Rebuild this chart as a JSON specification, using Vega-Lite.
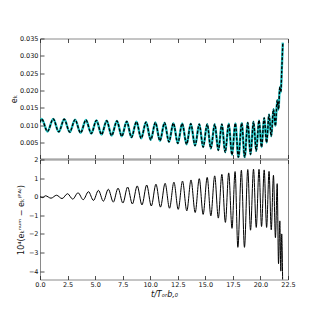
{
  "$schema": "https://vega.github.io/schema/vega-lite/v6.json",
  "padding": {"left": 9, "top": 34.5, "right": 5, "bottom": 5},
  "background": "white",
  "bounds": "flush",
  "config": {
    "view": {"stroke": "#8a8a8a", "strokeWidth": 1},
    "axis": {"grid": false, "domain": false, "tickSize": -4, "tickColor": "#222", "tickWidth": 0.8, "labelPadding": 6, "labelFlush": false, "labelFont": "DejaVu Sans", "labelFontSize": 6.5, "labelColor": "#111", "titleFont": "DejaVu Sans", "titleFontSize": 8, "titleFontWeight": "normal", "titleColor": "#111"}
  },
  "datasets": {
    "top": [
      {"t": 0.0, "e": 0.0108}, {"t": 0.15, "e": 0.0118}, {"t": 0.68, "e": 0.0082}, {"t": 1.2, "e": 0.0118},
      {"t": 1.7, "e": 0.0081}, {"t": 2.2, "e": 0.0117}, {"t": 2.7, "e": 0.0080}, {"t": 3.18, "e": 0.0116},
      {"t": 3.68, "e": 0.0078}, {"t": 4.17, "e": 0.0115}, {"t": 4.65, "e": 0.0076}, {"t": 5.12, "e": 0.0114},
      {"t": 5.58, "e": 0.0073}, {"t": 6.05, "e": 0.0113}, {"t": 6.5, "e": 0.0070}, {"t": 6.98, "e": 0.0112},
      {"t": 7.42, "e": 0.0068}, {"t": 7.87, "e": 0.0111}, {"t": 8.3, "e": 0.0065}, {"t": 8.75, "e": 0.0110},
      {"t": 9.18, "e": 0.0062}, {"t": 9.62, "e": 0.0109}, {"t": 10.05, "e": 0.0058}, {"t": 10.47, "e": 0.0108},
      {"t": 10.88, "e": 0.0055}, {"t": 11.3, "e": 0.0107}, {"t": 11.7, "e": 0.0052}, {"t": 12.1, "e": 0.0106},
      {"t": 12.5, "e": 0.0048}, {"t": 12.9, "e": 0.0105}, {"t": 13.3, "e": 0.0045}, {"t": 13.68, "e": 0.0104},
      {"t": 14.07, "e": 0.0041}, {"t": 14.45, "e": 0.0103}, {"t": 14.8, "e": 0.0037}, {"t": 15.17, "e": 0.0103},
      {"t": 15.5, "e": 0.0033}, {"t": 15.85, "e": 0.0103}, {"t": 16.18, "e": 0.0028}, {"t": 16.5, "e": 0.0103},
      {"t": 16.8, "e": 0.0022}, {"t": 17.12, "e": 0.0104}, {"t": 17.42, "e": 0.0015}, {"t": 17.72, "e": 0.0105},
      {"t": 18.0, "e": 0.0008}, {"t": 18.3, "e": 0.0106}, {"t": 18.57, "e": 0.0008}, {"t": 18.85, "e": 0.0107},
      {"t": 19.1, "e": 0.0016}, {"t": 19.37, "e": 0.0110}, {"t": 19.62, "e": 0.0026}, {"t": 19.87, "e": 0.0114},
      {"t": 20.1, "e": 0.0037}, {"t": 20.34, "e": 0.0121}, {"t": 20.56, "e": 0.0050}, {"t": 20.78, "e": 0.0131},
      {"t": 20.98, "e": 0.0068}, {"t": 21.18, "e": 0.0146}, {"t": 21.36, "e": 0.0098}, {"t": 21.52, "e": 0.0172},
      {"t": 21.64, "e": 0.0145}, {"t": 21.76, "e": 0.0210}, {"t": 21.85, "e": 0.0195}, {"t": 21.93, "e": 0.0255},
      {"t": 22.03, "e": 0.0338}
    ],
    "bottom": [
      {"t": 0.0, "d": 0.0}, {"t": 0.25, "d": -0.05}, {"t": 0.5, "d": 0.05}, {"t": 1.0, "d": -0.08},
      {"t": 1.5, "d": 0.08}, {"t": 2.0, "d": -0.1}, {"t": 2.5, "d": 0.16}, {"t": 2.97, "d": -0.13},
      {"t": 3.45, "d": 0.21}, {"t": 3.92, "d": -0.16}, {"t": 4.4, "d": 0.27}, {"t": 4.85, "d": -0.2},
      {"t": 5.3, "d": 0.34}, {"t": 5.75, "d": -0.24}, {"t": 6.2, "d": 0.4}, {"t": 6.65, "d": -0.29},
      {"t": 7.08, "d": 0.46}, {"t": 7.52, "d": -0.34}, {"t": 7.95, "d": 0.52}, {"t": 8.38, "d": -0.39},
      {"t": 8.82, "d": 0.58}, {"t": 9.25, "d": -0.44}, {"t": 9.68, "d": 0.63}, {"t": 10.1, "d": -0.5},
      {"t": 10.52, "d": 0.67}, {"t": 10.93, "d": -0.56}, {"t": 11.35, "d": 0.72}, {"t": 11.75, "d": -0.62},
      {"t": 12.15, "d": 0.78}, {"t": 12.54, "d": -0.68}, {"t": 12.93, "d": 0.84}, {"t": 13.32, "d": -0.76},
      {"t": 13.7, "d": 0.9}, {"t": 14.08, "d": -0.85}, {"t": 14.45, "d": 0.97}, {"t": 14.8, "d": -0.95},
      {"t": 15.17, "d": 1.04}, {"t": 15.5, "d": -1.03}, {"t": 15.85, "d": 1.12}, {"t": 16.18, "d": -1.15},
      {"t": 16.5, "d": 1.2}, {"t": 16.82, "d": -1.38}, {"t": 17.12, "d": 1.28}, {"t": 17.42, "d": -1.7},
      {"t": 17.7, "d": 1.35}, {"t": 17.95, "d": -2.72}, {"t": 18.27, "d": 1.42}, {"t": 18.55, "d": -2.72},
      {"t": 18.85, "d": 1.46}, {"t": 19.1, "d": -1.8}, {"t": 19.37, "d": 1.48}, {"t": 19.62, "d": -1.65},
      {"t": 19.87, "d": 1.47}, {"t": 20.1, "d": -1.6}, {"t": 20.34, "d": 1.44}, {"t": 20.56, "d": -1.65},
      {"t": 20.78, "d": 1.36}, {"t": 20.98, "d": -1.78}, {"t": 21.18, "d": 1.15}, {"t": 21.36, "d": -2.2},
      {"t": 21.52, "d": 0.7}, {"t": 21.64, "d": -3.6}, {"t": 21.76, "d": -1.3}, {"t": 21.85, "d": -4.0},
      {"t": 21.93, "d": -2.0}, {"t": 22.02, "d": -4.8}
    ]
  },
  "spacing": 1,
  "vconcat": [
    {
      "width": 248, "height": 120,
      "data": {"name": "top"},
      "layer": [
        {
          "mark": {"type": "line", "color": "#22c6c6", "strokeWidth": 2.4, "interpolate": "monotone", "clip": true},
          "encoding": {
            "x": {"field": "t", "type": "quantitative", "scale": {"domain": [0, 22.5]},
                  "axis": {"orient": "bottom", "labels": false, "title": null, "values": [0, 2.5, 5, 7.5, 10, 12.5, 15, 17.5, 20, 22.5]}},
            "y": {"field": "e", "type": "quantitative", "scale": {"domain": [0.0004, 0.035]},
                  "axis": {"title": "eₖ", "values": [0.005, 0.01, 0.015, 0.02, 0.025, 0.03, 0.035], "format": ".3f", "titlePadding": 1}}
          }
        },
        {
          "mark": {"type": "line", "color": "#000", "strokeWidth": 1.4, "strokeDash": [3, 1.5], "interpolate": "monotone", "clip": true},
          "encoding": {
            "x": {"field": "t", "type": "quantitative", "scale": {"domain": [0, 22.5]},
                  "axis": {"orient": "top", "labels": false, "title": null, "values": [0, 2.5, 5, 7.5, 10, 12.5, 15, 17.5, 20, 22.5]}},
            "y": {"field": "e", "type": "quantitative", "scale": {"domain": [0.0004, 0.035]},
                  "axis": {"title": "eₖ", "values": [0.005, 0.01, 0.015, 0.02, 0.025, 0.03, 0.035], "format": ".3f", "titlePadding": 1}}
          }
        }
      ],
      "resolve": {"axis": {"x": "independent"}}
    },
    {
      "width": 248, "height": 120,
      "data": {"name": "bottom"},
      "layer": [
        {
          "mark": {"type": "line", "color": "#000", "strokeWidth": 1, "interpolate": "monotone", "clip": true},
          "encoding": {
            "x": {"field": "t", "type": "quantitative", "scale": {"domain": [0, 22.5]},
                  "axis": {"orient": "bottom", "title": "t/Tₒᵣb,₀", "titleFontStyle": "italic", "titlePadding": 2, "format": ".1f", "values": [0, 2.5, 5, 7.5, 10, 12.5, 15, 17.5, 20, 22.5]}},
            "y": {"field": "d", "type": "quantitative", "scale": {"domain": [-4.45, 2.0]},
                  "axis": {"title": "10⁴(eₖⁿᵘᵐ − eₖ⁽ᴾᴬ⁾)", "values": [-4, -3, -2, -1, 0, 1, 2], "format": "d", "titlePadding": 3}}
          }
        },
        {
          "mark": {"type": "line", "color": "#000", "strokeWidth": 1, "interpolate": "monotone", "clip": true, "opacity": 0},
          "encoding": {
            "x": {"field": "t", "type": "quantitative", "scale": {"domain": [0, 22.5]},
                  "axis": {"orient": "top", "labels": false, "title": null, "values": [0, 2.5, 5, 7.5, 10, 12.5, 15, 17.5, 20, 22.5]}},
            "y": {"field": "d", "type": "quantitative", "scale": {"domain": [-4.45, 2.0]},
                  "axis": {"title": "10⁴(eₖⁿᵘᵐ − eₖ⁽ᴾᴬ⁾)", "values": [-4, -3, -2, -1, 0, 1, 2], "format": "d", "titlePadding": 3}}
          }
        }
      ],
      "resolve": {"axis": {"x": "independent"}}
    }
  ]
}
